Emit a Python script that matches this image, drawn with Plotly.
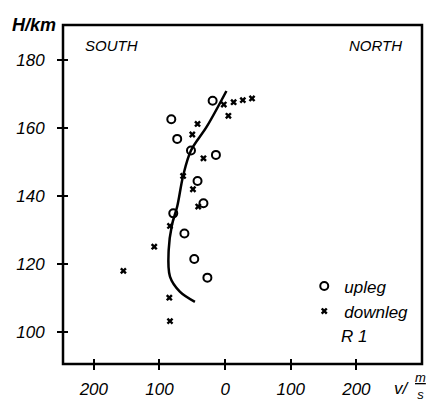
import plotly.graph_objects as go

# northward velocity (m/s, negative = south) and height (km)
upleg_v = [-19, -82, -73, -52, -14, -42, -33, -79, -62, -47, -27]
upleg_h = [168.0, 162.6, 156.8, 153.4, 152.1, 144.4, 137.9, 134.9, 129.0, 121.5, 116.0]

downleg_v = [-2, 13, 27, 41, 5, -42, -50, -33, -64, -49, -41, -84, -108, -155, -85, -84]
downleg_h = [166.9, 167.6, 168.2, 168.7, 163.6, 161.2, 158.1, 151.1, 145.9, 142.0, 136.9, 131.2, 125.1, 118.0, 110.1, 103.2]

fit_v = [2, -28, -52, -64, -73, -81, -86, -84, -69, -46]
fit_h = [170.9, 160.4, 153.4, 145.9, 136.9, 131.5, 124.1, 116.3, 111.9, 108.9]

x_tickvals = [-200, -100, 0, 100, 200]
x_ticktext = ["200", "100", "0", "100", "200"]
y_tickvals = [100, 120, 140, 160, 180]

XR = [-247, 300]
YR = [90.6, 190.3]
FONT = "Liberation Sans"

fig = go.Figure()
fig.add_trace(go.Scatter(x=fit_v, y=fit_h, mode="lines", line=dict(color="black", width=2.5, shape="spline"),
                         showlegend=False, hoverinfo="skip"))
fig.add_trace(go.Scatter(x=upleg_v, y=upleg_h, mode="markers", name="upleg",
                         marker=dict(symbol="circle-open", size=8, color="black", line=dict(width=2))))
fig.add_trace(go.Scatter(x=downleg_v, y=downleg_h, mode="markers", name="downleg",
                         marker=dict(symbol="x", size=6, color="black", line=dict(width=0))))
# overlay axes carrying the inner half of the cross-shaped ticks
fig.add_trace(go.Scatter(x=[None], y=[None], xaxis="x2", yaxis="y2", showlegend=False, hoverinfo="skip"))

fig.update_layout(
    width=432, height=401,
    margin=dict(l=63, r=10, t=25, b=37, autoexpand=False),
    paper_bgcolor="white", plot_bgcolor="white",
    font=dict(family=FONT, size=17, color="black", style="italic"),
    xaxis=dict(range=XR, tickvals=x_tickvals, ticktext=x_ticktext, ticks="outside", ticklen=5, tickwidth=2,
               tickcolor="black", showline=False, showgrid=False, zeroline=False, automargin=False,
               ticklabelstandoff=5, tickfont=dict(family=FONT, size=17, style="italic")),
    yaxis=dict(range=YR, tickvals=y_tickvals, ticks="outside", ticklen=5, tickwidth=2,
               tickcolor="black", showline=False, showgrid=False, zeroline=False, automargin=False,
               ticklabelstandoff=9, tickfont=dict(family=FONT, size=17, style="italic")),
    xaxis2=dict(range=XR, overlaying="x", side="bottom", tickvals=x_tickvals, ticks="inside", ticklen=5,
                tickwidth=2, tickcolor="black", showticklabels=False, showline=False, showgrid=False,
                zeroline=False, automargin=False),
    yaxis2=dict(range=YR, overlaying="y", side="left", tickvals=y_tickvals, ticks="inside", ticklen=5,
                tickwidth=2, tickcolor="black", showticklabels=False, showline=False, showgrid=False,
                zeroline=False, automargin=False),
    legend=dict(x=0.672, y=0.282, xanchor="left", yanchor="top", bgcolor="rgba(0,0,0,0)",
                font=dict(family=FONT, size=17, style="italic"), itemwidth=30, tracegroupgap=0),
    showlegend=True,
)

# plot frame
fig.add_shape(type="rect", xref="paper", yref="paper", x0=0, x1=1, y0=0, y1=1,
              line=dict(color="black", width=2.5), layer="above")

fig.add_annotation(text="H/km", xref="paper", yref="paper", x=-0.015, y=1.0, xanchor="right", yanchor="middle",
                   showarrow=False, font=dict(family=FONT, size=18, style="italic", weight="bold"))
fig.add_annotation(text="SOUTH", xref="paper", yref="paper", x=0.055, y=0.94, xanchor="left", yanchor="middle",
                   showarrow=False, font=dict(family=FONT, size=15, style="italic"))
fig.add_annotation(text="NORTH", xref="paper", yref="paper", x=0.95, y=0.94, xanchor="right", yanchor="middle",
                   showarrow=False, font=dict(family=FONT, size=15, style="italic"))
fig.add_annotation(text="R 1", xref="paper", yref="paper", x=0.77, y=0.082, xanchor="left", yanchor="middle",
                   showarrow=False, font=dict(family=FONT, size=17, style="italic"))
fig.add_annotation(text="v/", xref="paper", yref="paper", x=0.917, y=-0.071, xanchor="left", yanchor="middle",
                   showarrow=False, font=dict(family=FONT, size=17, style="italic"))
fig.add_annotation(text="<u>m</u><br>s", xref="paper", yref="paper", x=0.997, y=-0.066, xanchor="center",
                   yanchor="middle", showarrow=False, font=dict(family=FONT, size=13, style="italic"))

fig.write_html("out.html", config={"displayModeBar": False},
               post_script="document.body.style.margin='0';")
